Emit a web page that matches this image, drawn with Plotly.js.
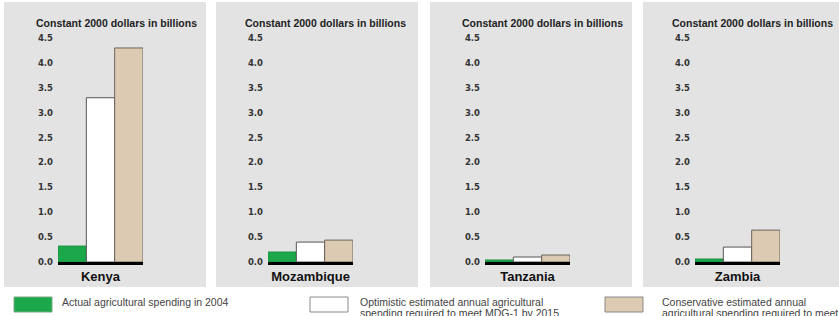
<!DOCTYPE html>
<html>
<head>
<meta charset="utf-8">
<script src="https://cdn.plot.ly/plotly-3.0.1.min.js"></script>
<style>html,body{margin:0;padding:0;background:#fff;}#chart{width:839px;height:316px;}</style>
</head>
<body>
<div id="chart"></div>
<script>
// ---- data ----
const countries = ['Kenya', 'Mozambique', 'Tanzania', 'Zambia'];
const actual2004 = [0.32, 0.20, 0.04, 0.06];
const optimistic = [3.30, 0.40, 0.10, 0.30];
const conservative = [4.30, 0.44, 0.14, 0.64];
const seriesNames = [
  'Actual agricultural spending in 2004',
  'Optimistic estimated annual agricultural<br>spending required to meet MDG-1 by 2015',
  'Conservative estimated annual<br>agricultural spending required to meet MDG-1 by 2015'
];
const yTicks = [0, 0.5, 1.0, 1.5, 2.0, 2.5, 3.0, 3.5, 4.0, 4.5];
const unitTitle = 'Constant 2000 dollars in billions';

// ---- styling / layout ----
const W = 839, H = 316;
const colors = ['#1aa84a', '#ffffff', '#dccab3'];
const lineColors = ['#1a9040', '#555555', '#6e6558'];
const panelLeft = [4, 216, 430, 643];
const panelW = 202;
const barLeft = [58, 268, 485, 695];
const barW = 85;
const titleLeft = [34, 243, 460, 670];
const px = v => v / W;
const py = v => (H - v) / H;

const allSeries = [actual2004, optimistic, conservative];
const traces = [];
const layout = {
  width: W, height: H,
  margin: {l: 0, r: 0, t: 0, b: 0},
  paper_bgcolor: '#ffffff',
  plot_bgcolor: 'rgba(0,0,0,0)',
  barmode: 'group', bargap: 0, bargroupgap: 0,
  showlegend: false,
  shapes: [], annotations: []
};

countries.forEach((c, i) => {
  const n = i === 0 ? '' : String(i + 1);
  allSeries.forEach((s, k) => {
    traces.push({
      type: 'bar', x: [c], y: [s[i]], name: seriesNames[k],
      xaxis: 'x' + n, yaxis: 'y' + n,
      marker: {color: colors[k], line: {color: lineColors[k], width: 1}},
      hoverinfo: 'skip'
    });
  });
  layout['xaxis' + n] = {
    domain: [px(barLeft[i]), px(barLeft[i] + barW)],
    anchor: 'y' + n, type: 'category',
    showline: true, linecolor: '#000', linewidth: 3,
    ticks: '', showgrid: false, zeroline: false, fixedrange: true,
    tickfont: {family: 'Liberation Sans, Arial, sans-serif', size: 13, color: '#111', weight: 'bold'},
    ticklabelstandoff: 0
  };
  layout['yaxis' + n] = {
    domain: [54 / H, 278 / H],
    anchor: 'x' + n, range: [0, 4.5],
    tickvals: yTicks, tickformat: '.1f',
    ticks: '', showgrid: false, zeroline: false, showline: false, fixedrange: true,
    tickfont: {family: 'DejaVu Sans, sans-serif', size: 8.5, color: '#333', weight: 'bold'},
    ticklabelstandoff: 4
  };
  layout.shapes.push({
    type: 'rect', xref: 'paper', yref: 'paper', layer: 'below',
    x0: px(panelLeft[i]), x1: px(panelLeft[i] + panelW), y0: py(287), y1: py(2),
    fillcolor: '#e3e3e4', line: {width: 0}
  });
  layout.annotations.push({
    xref: 'paper', yref: 'paper', x: px(titleLeft[i]), y: py(23),
    xanchor: 'left', yanchor: 'middle', showarrow: false,
    text: '<b>' + unitTitle + '</b>',
    font: {family: 'Liberation Sans, Arial, sans-serif', size: 10.5, color: '#222'}
  });
});

// legend
const boxLeft = [14, 310, 605];
const textLeft = [60, 358, 660];
seriesNames.forEach((nm, k) => {
  layout.shapes.push({
    type: 'rect', xref: 'paper', yref: 'paper',
    x0: px(boxLeft[k]), x1: px(boxLeft[k] + 38), y0: py(312), y1: py(297),
    fillcolor: colors[k], line: {color: k === 0 ? '#7aa985' : '#8a8a8a', width: 1}
  });
  nm.split('<br>').forEach((ln, j) => {
    layout.annotations.push({
      xref: 'paper', yref: 'paper', x: px(textLeft[k]), y: py(302 + j * 11),
      xanchor: 'left', yanchor: 'middle', align: 'left', showarrow: false,
      text: ln,
      font: {family: 'Liberation Sans, Arial, sans-serif', size: 10.5, color: '#444'}
    });
  });
});

Plotly.newPlot('chart', traces, layout, {staticPlot: true, displayModeBar: false});
</script>
</body>
</html>
